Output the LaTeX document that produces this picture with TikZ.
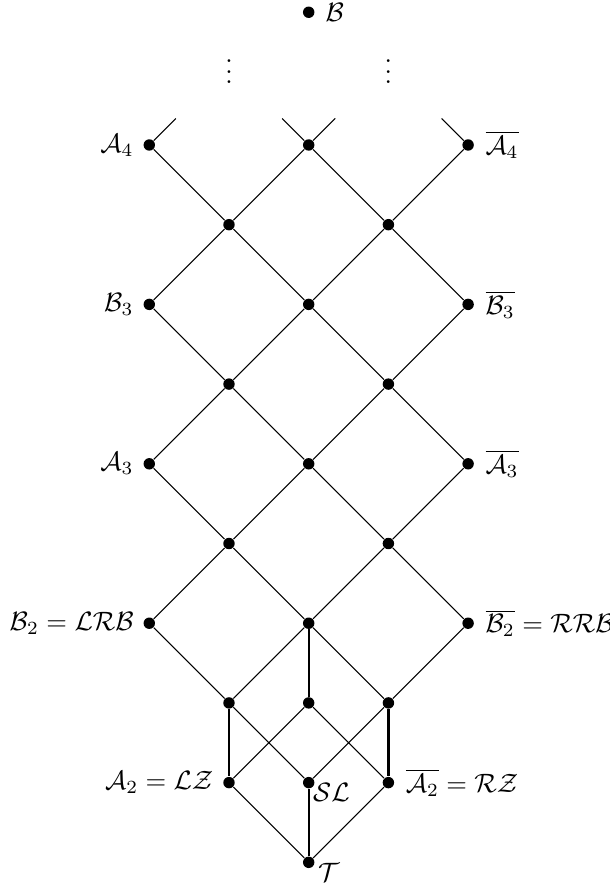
\documentclass[tikz,border=0pt]{standalone}
\begin{document}
\tikzset{
  dot/.style={circle, fill=black, inner sep=0pt, minimum size=4.3pt},
  thinedge/.style={line width=0.4pt},
  thickedge/.style={line width=0.85pt},
  tag/.style={inner sep=0pt},
  dotslab/.style={anchor=south, inner sep=0pt},
  ll/.style={inner sep=1pt, label distance=2.35pt},
  rl/.style={inner sep=1pt, label distance=3.0pt}
}
\begin{tikzpicture}[x=30pt, y=30pt]
\useasboundingbox (-3.873,1.819) rectangle (3.768,-9.297);
% top element
\node[dot, label={[inner sep=0.5pt, label distance=3.3pt]right:$\mathcal{B}$}] (top) at (0,1.665) {};
\node[dotslab] (vl) at (-1,0.759) {$\vdots$};
\node[dotslab] (vr) at (1,0.759) {$\vdots$};
% lattice nodes
\node[dot, label={[ll]left:$\mathcal{A}_4$}] (p00) at (-2,0) {};
\node[dot] (p20) at (0,0) {};
\node[dot, label={[rl]right:$\overline{\mathcal{A}_4}$}] (p40) at (2,0) {};
\node[dot] (p11) at (-1,-1) {};
\node[dot] (p31) at (1,-1) {};
\node[dot, label={[ll]left:$\mathcal{B}_3$}] (p02) at (-2,-2) {};
\node[dot] (p22) at (0,-2) {};
\node[dot, label={[rl]right:$\overline{\mathcal{B}_3}$}] (p42) at (2,-2) {};
\node[dot] (p13) at (-1,-3) {};
\node[dot] (p33) at (1,-3) {};
\node[dot, label={[ll]left:$\mathcal{A}_3$}] (p04) at (-2,-4) {};
\node[dot] (p24) at (0,-4) {};
\node[dot, label={[rl]right:$\overline{\mathcal{A}_3}$}] (p44) at (2,-4) {};
\node[dot] (p15) at (-1,-5) {};
\node[dot] (p35) at (1,-5) {};
\node[dot, label={[ll]left:$\mathcal{B}_2=\mathcal{LRB}$}] (p06) at (-2,-6) {};
\node[dot] (p26) at (0,-6) {};
\node[dot, label={[rl]right:$\overline{\mathcal{B}_2}=\mathcal{RRB}$}] (p46) at (2,-6) {};
\node[dot] (p17) at (-1,-7) {};
\node[dot] (p27) at (0,-7) {};
\node[dot] (p37) at (1,-7) {};
\node[dot, label={[ll]left:$\mathcal{A}_2=\mathcal{LZ}$}] (p18) at (-1,-8) {};
\node[dot] (p28) at (0,-8) {};
\node[dot, label={[rl]right:$\overline{\mathcal{A}_2}=\mathcal{RZ}$}] (p38) at (1,-8) {};
\node[dot] (p29) at (0,-9) {};
\node[tag, anchor=north west] (slab) at ([xshift=1.5pt, yshift=-0.2pt]p28.center) {$\mathcal{SL}$};
\node[tag, anchor=north west] (tlab) at ([xshift=3.3pt, yshift=-0.3pt]p29.center) {$\mathcal{T}$};
% stubs at the top
\coordinate (s1) at (-1.667,0.333);
\coordinate (s2) at (-0.333,0.333);
\coordinate (s3) at (0.333,0.333);
\coordinate (s4) at (1.667,0.333);
\draw[thinedge] (p00) -- (s1) (p20) -- (s2) (p20) -- (s3) (p40) -- (s4);
% diamond lattice
\foreach \j [evaluate=\j as \k using int(\j+1)] in {0,2,4} {
  \draw[thinedge] (p0\j) -- (p1\k) (p2\j) -- (p1\k) (p2\j) -- (p3\k) (p4\j) -- (p3\k);
}
\foreach \j [evaluate=\j as \k using int(\j+1)] in {1,3,5} {
  \draw[thinedge] (p1\j) -- (p0\k) (p1\j) -- (p2\k) (p3\j) -- (p2\k) (p3\j) -- (p4\k);
}
% lower part
\draw[thinedge] (p06) -- (p17) (p26) -- (p17) (p26) -- (p37) (p46) -- (p37);
\draw[thickedge] (p26) -- (p27);
\draw[thickedge] (p17) -- (p18) (p37) -- (p38);
\draw[thinedge] (p17) -- (p28) (p27) -- (p18) (p27) -- (p38) (p37) -- (p28);
\draw[thinedge] (p18) -- (p29) (p38) -- (p29);
\draw[thickedge] (p28) -- (p29);
\end{tikzpicture}
\end{document}
